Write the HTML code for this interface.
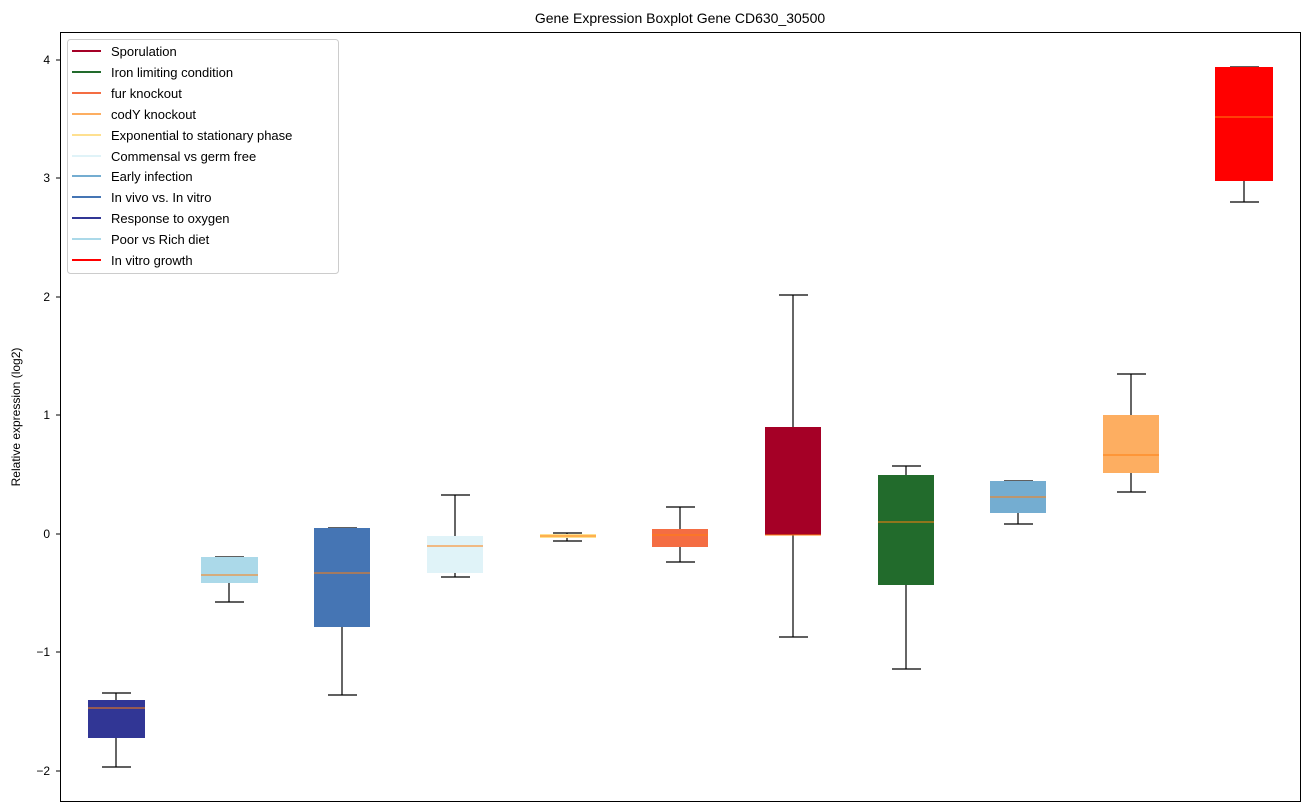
<!DOCTYPE html>
<html><head><meta charset="utf-8"><style>body{margin:0;background:#fff}svg{display:block}</style></head><body>
<svg width="1309" height="812" xmlns="http://www.w3.org/2000/svg" font-family="Liberation Sans, DejaVu Sans, sans-serif">
<rect width="1309" height="812" fill="#fff"/>
<text x="680" y="23" font-size="14" text-anchor="middle">Gene Expression Boxplot Gene CD630_30500</text>
<text transform="translate(20,417) rotate(-90)" font-size="12" text-anchor="middle">Relative expression (log2)</text>
<g font-size="12" text-anchor="end">
<text x="50" y="64">4</text><text x="50" y="182">3</text><text x="50" y="301">2</text><text x="50" y="419">1</text><text x="50" y="538">0</text><text x="50" y="656">−1</text><text x="50" y="775">−2</text>
</g>
<g stroke="#000"><line x1="56" x2="60" y1="60" y2="60"/><line x1="56" x2="60" y1="178" y2="178"/><line x1="56" x2="60" y1="297" y2="297"/><line x1="56" x2="60" y1="415" y2="415"/><line x1="56" x2="60" y1="534" y2="534"/><line x1="56" x2="60" y1="652" y2="652"/><line x1="56" x2="60" y1="771" y2="771"/></g>
<g stroke="#000" stroke-width="1.2">
<!-- whiskers: cx, wtop, boxtop, boxbot, wbot -->
<line x1="116" x2="116" y1="693" y2="767"/><line x1="102" x2="131" y1="693" y2="693"/><line x1="102" x2="131" y1="767" y2="767"/>
<line x1="229" x2="229" y1="557" y2="602"/><line x1="215" x2="244" y1="557" y2="557"/><line x1="215" x2="244" y1="602" y2="602"/>
<line x1="342" x2="342" y1="528" y2="695"/><line x1="328" x2="357" y1="528" y2="528"/><line x1="328" x2="357" y1="695" y2="695"/>
<line x1="455" x2="455" y1="495" y2="577"/><line x1="441" x2="470" y1="495" y2="495"/><line x1="441" x2="470" y1="577" y2="577"/>
<line x1="567" x2="567" y1="533" y2="541"/><line x1="553" x2="582" y1="533" y2="533"/><line x1="553" x2="582" y1="541" y2="541"/>
<line x1="680" x2="680" y1="507" y2="562"/><line x1="666" x2="695" y1="507" y2="507"/><line x1="666" x2="695" y1="562" y2="562"/>
<line x1="793" x2="793" y1="295" y2="637"/><line x1="779" x2="808" y1="295" y2="295"/><line x1="779" x2="808" y1="637" y2="637"/>
<line x1="906" x2="906" y1="466" y2="669"/><line x1="892" x2="921" y1="466" y2="466"/><line x1="892" x2="921" y1="669" y2="669"/>
<line x1="1018" x2="1018" y1="481" y2="524"/><line x1="1004" x2="1033" y1="481" y2="481"/><line x1="1004" x2="1033" y1="524" y2="524"/>
<line x1="1131" x2="1131" y1="374" y2="492"/><line x1="1117" x2="1146" y1="374" y2="374"/><line x1="1117" x2="1146" y1="492" y2="492"/>
<line x1="1244" x2="1244" y1="67" y2="202"/><line x1="1230" x2="1259" y1="67" y2="67"/><line x1="1230" x2="1259" y1="202" y2="202"/>
</g>
<g>
<rect x="88" y="700" width="57" height="38" fill="#313695"/>
<rect x="201" y="557" width="57" height="26" fill="#abd9e9"/>
<rect x="314" y="528" width="56" height="99" fill="#4575b4"/>
<rect x="427" y="536" width="56" height="37" fill="#e0f3f8"/>
<rect x="540" y="534" width="56" height="4" fill="#fee090"/>
<rect x="652" y="529" width="56" height="18" fill="#f46d43"/>
<rect x="765" y="427" width="56" height="108" fill="#a50026"/>
<rect x="878" y="475" width="56" height="110" fill="#226b2c"/>
<rect x="990" y="481" width="56" height="32" fill="#74add1"/>
<rect x="1103" y="415" width="56" height="58" fill="#fdae61"/>
<rect x="1215" y="67" width="58" height="114" fill="#ff0000"/>
</g>
<g stroke="#ff7f0e" stroke-width="1">
<line x1="88" x2="145" y1="708" y2="708"/><line x1="201" x2="258" y1="575" y2="575"/><line x1="314" x2="370" y1="573" y2="573"/><line x1="427" x2="483" y1="546" y2="546"/><line x1="540" x2="596" y1="536" y2="536"/><line x1="652" x2="708" y1="535" y2="535"/><line x1="765" x2="821" y1="535" y2="535"/><line x1="878" x2="934" y1="522" y2="522"/><line x1="990" x2="1046" y1="497" y2="497"/><line x1="1103" x2="1159" y1="455" y2="455"/><line x1="1215" x2="1273" y1="117" y2="117"/>
</g>
<rect x="60.5" y="32.5" width="1240" height="769" fill="none" stroke="#000"/>
<rect x="67.5" y="39.5" width="271" height="234" rx="3" fill="#fff" fill-opacity="0.8" stroke="#ccc"/>
<g stroke-width="2">
<line x1="72" x2="101" y1="51" y2="51" stroke="#a50026"/>
<line x1="72" x2="101" y1="72" y2="72" stroke="#226b2c"/>
<line x1="72" x2="101" y1="93" y2="93" stroke="#f46d43"/>
<line x1="72" x2="101" y1="114" y2="114" stroke="#fdae61"/>
<line x1="72" x2="101" y1="135" y2="135" stroke="#fee090"/>
<line x1="72" x2="101" y1="156" y2="156" stroke="#e0f3f8"/>
<line x1="72" x2="101" y1="176" y2="176" stroke="#74add1"/>
<line x1="72" x2="101" y1="197" y2="197" stroke="#4575b4"/>
<line x1="72" x2="101" y1="218" y2="218" stroke="#313695"/>
<line x1="72" x2="101" y1="239" y2="239" stroke="#abd9e9"/>
<line x1="72" x2="101" y1="260" y2="260" stroke="#ff0000"/>
</g>
<g font-size="13" fill="#000">
<text x="111" y="56">Sporulation</text>
<text x="111" y="77">Iron limiting condition</text>
<text x="111" y="98">fur knockout</text>
<text x="111" y="119">codY knockout</text>
<text x="111" y="140">Exponential to stationary phase</text>
<text x="111" y="161">Commensal vs germ free</text>
<text x="111" y="181">Early infection</text>
<text x="111" y="202">In vivo vs. In vitro</text>
<text x="111" y="223">Response to oxygen</text>
<text x="111" y="244">Poor vs Rich diet</text>
<text x="111" y="265">In vitro growth</text>
</g>
</svg>
</body></html>
